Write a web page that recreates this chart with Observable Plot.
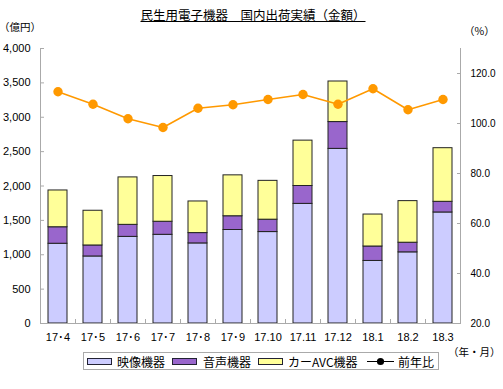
<!DOCTYPE html>
<html><head><meta charset="utf-8">
<script src="https://cdn.jsdelivr.net/npm/d3@7"></script>
<script src="https://cdn.jsdelivr.net/npm/@observablehq/plot@0.6"></script>
<style>
body{margin:0;background:#fff;}
#wrap{position:relative;width:503px;height:389px;font-family:"Noto Sans CJK JP",sans-serif;color:#000;overflow:hidden;}
#wrap svg.plot{position:absolute;left:0;top:0;}
.t{position:absolute;white-space:nowrap;line-height:1;}
#legend{position:absolute;left:83px;top:352px;width:356px;height:18px;border:1px solid #aaa;box-sizing:border-box;font-size:12px;}
#legend .sw{position:absolute;top:5px;width:23px;height:5px;border:1px solid #223;}
#legend .lt{position:absolute;top:2px;line-height:14px;}
</style></head><body>
<div id="wrap">
  <div class="t" style="left:0;width:506px;text-align:center;top:9px;font-size:12.5px;text-decoration:underline;">民生用電子機器　国内出荷実績（金額）</div>
  <div class="t" style="left:-1px;top:22px;font-size:10.5px;">（億円）</div>
  <div class="t" style="left:464px;top:26px;font-size:10.5px;">（%）</div>
  <div class="t" style="left:448px;top:347px;font-size:10.5px;">（年・月）</div>
  <div id="legend"></div>
</div>
<script>
const months = ["17･4","17･5","17･6","17･7","17･8","17･9","17.10","17.11","17.12","18.1","18.2","18.3"];
const seriesNames = ["映像機器","音声機器","カーAVC機器"];
const lineName = "前年比";
const video  = [1160, 975,1260,1290,1165,1360,1330,1740,2540, 910,1035,1615];
const audio  = [ 240, 160, 175, 190, 150, 200, 180, 260, 390, 210, 140, 155];
const carAvc = [ 535, 505, 690, 665, 460, 595, 565, 660, 590, 465, 605, 780];
const yoy    = [112.7,107.7,101.9,98.4,106.1,107.5,109.6,111.6,107.7,113.9,105.5,109.6];
const leftTicks  = [0,500,1000,1500,2000,2500,3000,3500,4000];
const rightTicks = [20,40,60,80,100,120];
const colors = ["#ccccff","#9966cc","#ffff99"];

const seriesValues = [video, audio, carAvc];
const rows = [];
months.forEach((m,i)=>seriesNames.forEach((s,k)=>rows.push({month:m, series:s, value:seriesValues[k][i]})));
const lineData = months.map((m,i)=>({month:m, yoy:yoy[i]}));

// right axis (%) mapped onto the left scale
const toLeft = d3.scaleLinear().domain([20,130]).range([0,4000]);

const chart = Plot.plot({
  width:503, height:389,
  marginLeft:40, marginRight:43, marginTop:48, marginBottom:66,
  style:{fontFamily:"'Liberation Sans', Arial, sans-serif", fontSize:"11px", background:"transparent", overflow:"visible"},
  x:{domain:months, paddingInner:0.457, paddingOuter:0.2285},
  y:{domain:[0,4000]},
  color:{domain:seriesNames, range:colors},
  marks:[
    Plot.barY(rows,{x:"month", y:"value", fill:"series", stroke:"#222", strokeWidth:1}),
    Plot.ruleY([0],{stroke:"#aaa"}),
    Plot.ruleX([months[0]],{dx:-17.5, stroke:"#aaa"}),
    Plot.ruleX([months[months.length-1]],{dx:17.5, stroke:"#aaa"}),
    Plot.axisY({anchor:"left", ticks:leftTicks, tickSize:0, tickPadding:10, tickFormat:d3.format(","), label:null}),
    Plot.axisY({anchor:"left", ticks:leftTicks, tickSize:4, dx:4, tickFormat:()=>"", stroke:"#aaa", label:null}),
    Plot.axisY({anchor:"right", ticks:rightTicks.map(toLeft), tickSize:0, tickPadding:10, fontSize:10, tickFormat:d=>d3.format(".1f")(toLeft.invert(d)), label:null}),
    Plot.axisY({anchor:"right", ticks:rightTicks.map(toLeft), tickSize:4, dx:-4, tickFormat:()=>"", stroke:"#aaa", label:null}),
    Plot.axisX({tickSize:0, tickPadding:10, label:null}),
    Plot.axisX({tickSize:4, dx:17.5, dy:-4, tickFormat:()=>"", stroke:"#aaa", label:null}),
    Plot.line(lineData,{x:"month", y:d=>toLeft(d.yoy), stroke:"#ff9900", strokeWidth:1.5}),
    Plot.dot(lineData,{x:"month", y:d=>toLeft(d.yoy), r:4.7, fill:"#ff9900", stroke:"none"})
  ]
});
chart.classList.add("plot");
document.getElementById("wrap").prepend(chart);

// legend
const lg = document.getElementById("legend");
const swLeft = [3, 88, 174];
const txLeft = [33, 119, 204];
seriesNames.forEach((s,k)=>{
  const sw = document.createElement("div"); sw.className="sw";
  sw.style.left = swLeft[k]+"px"; sw.style.background = colors[k]; lg.appendChild(sw);
  const tx = document.createElement("div"); tx.className="lt";
  tx.style.left = txLeft[k]+"px"; tx.textContent = s; lg.appendChild(tx);
});
const ls = document.createElementNS("http://www.w3.org/2000/svg","svg");
ls.setAttribute("width","28"); ls.setAttribute("height","16");
ls.style.position="absolute"; ls.style.left="283px"; ls.style.top="0px";
ls.innerHTML = '<line x1="0" x2="27" y1="8.5" y2="8.5" stroke="#000" stroke-width="1"/><circle cx="13.5" cy="8.5" r="3.6" fill="#000"/>';
lg.appendChild(ls);
const lt = document.createElement("div"); lt.className="lt"; lt.style.left="314px"; lt.textContent=lineName; lg.appendChild(lt);
</script>
</body></html>
